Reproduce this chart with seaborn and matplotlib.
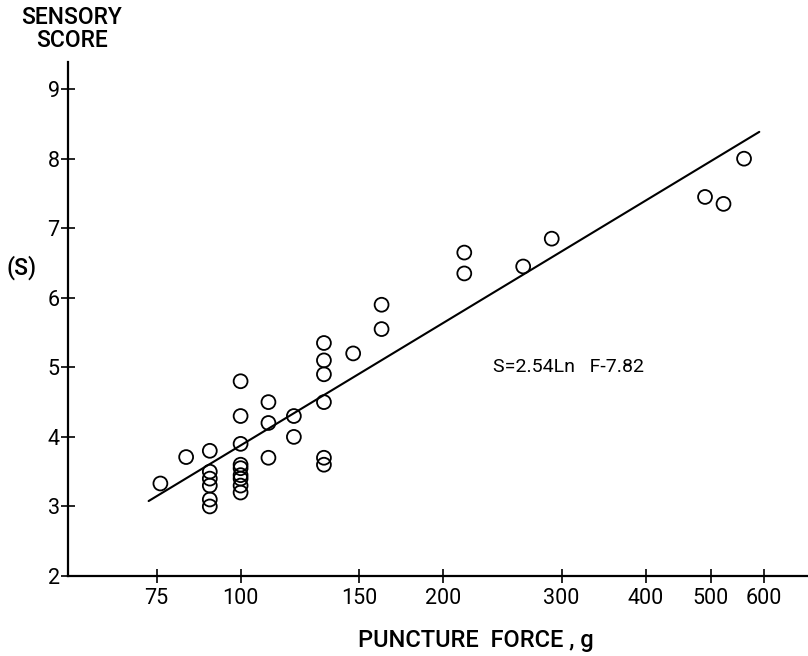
import numpy as np
import pandas as pd
import matplotlib
matplotlib.use("Agg")
import matplotlib.pyplot as plt
from matplotlib.ticker import FixedLocator, NullLocator, FixedFormatter
import seaborn as sns

# Puncture force (g) and the matching sensory score for each sample
force = [76, 83,
         90, 90, 90, 90, 90, 90,
         100, 100, 100, 100, 100, 100, 100, 100, 100,
         110, 110, 110,
         120, 120,
         133, 133, 133, 133, 133, 133,
         147,
         162, 162,
         215, 215,
         263, 290, 490, 522, 560]
score = [3.33, 3.71,
         3.8, 3.5, 3.4, 3.3, 3.1, 3.0,
         4.8, 4.3, 3.9, 3.6, 3.55, 3.45, 3.4, 3.3, 3.2,
         4.5, 4.2, 3.7,
         4.3, 4.0,
         5.35, 5.1, 4.9, 4.5, 3.7, 3.6,
         5.2,
         5.9, 5.55,
         6.65, 6.35,
         6.45, 6.85, 7.45, 7.35, 8.0]

# Fitted relation S = a * ln(F) + b
slope_a = 2.54
intercept_b = -7.82
fit_range = [73, 590]

x_ticks = [75, 100, 150, 200, 300, 400, 500, 600]
x_tick_labels = ["75", "100", "150", "200", "300", "400", "500", "600"]
y_ticks = [2, 3, 4, 5, 6, 7, 8, 9]

sns.set_style("white")
plt.rcParams["font.family"] = ["Roboto", "DejaVu Sans"]

fig = plt.figure(figsize=(8.08, 6.56), dpi=100)
ax = fig.add_axes([68 / 808, 80 / 656, 740 / 808, 514 / 656])

df = pd.DataFrame({"force": force, "score": score})
fit_f = np.geomspace(fit_range[0], fit_range[1], 200)
fit_df = pd.DataFrame({"force": fit_f,
                       "score": slope_a * np.log(fit_f) + intercept_b})

sns.lineplot(data=fit_df, x="force", y="score", ax=ax, color="black",
             linewidth=1.5, zorder=2)
sns.scatterplot(data=df, x="force", y="score", ax=ax, marker="o", s=100,
                facecolors="none", edgecolor="black", linewidth=1.3, zorder=3)

ax.set_xscale("log")
ax.set_xlim(55.4, 697)
ax.set_ylim(2, 9.39)

ax.xaxis.set_major_locator(FixedLocator(x_ticks))
ax.xaxis.set_major_formatter(FixedFormatter(x_tick_labels))
ax.xaxis.set_minor_locator(NullLocator())
ax.yaxis.set_major_locator(FixedLocator(y_ticks))
ax.yaxis.set_minor_locator(NullLocator())

for side in ("top", "right"):
    ax.spines[side].set_visible(False)
for side in ("left", "bottom"):
    ax.spines[side].set_linewidth(1.6)
    ax.spines[side].set_color("black")

ax.tick_params(axis="both", which="major", direction="inout", length=10,
               width=1.2, color="black", labelsize=15.5, labelcolor="black",
               bottom=True, left=True)
ax.tick_params(axis="x", pad=4)
ax.tick_params(axis="y", pad=1)
ax.set_xlabel("")
ax.set_ylabel("")

ax.text(237, 5.0, "S=2.54Ln   F-7.82", fontsize=14, ha="left",
        va="center", color="black")

fig.text(72 / 808, 1 - 29 / 656, "SENSORY\nSCORE", ha="center", va="center",
         fontsize=16.5, linespacing=1.0, color="black", fontweight="medium")
fig.text(22 / 808, 1 - 268 / 656, "(S)", ha="center", va="center",
         fontsize=16.5, color="black", fontweight="medium")
fig.text(476 / 808, 1 - 640 / 656, "PUNCTURE  FORCE , g", ha="center",
         va="center", fontsize=17, color="black", fontweight="medium")

fig.savefig("out.png", dpi=100, facecolor="white")
